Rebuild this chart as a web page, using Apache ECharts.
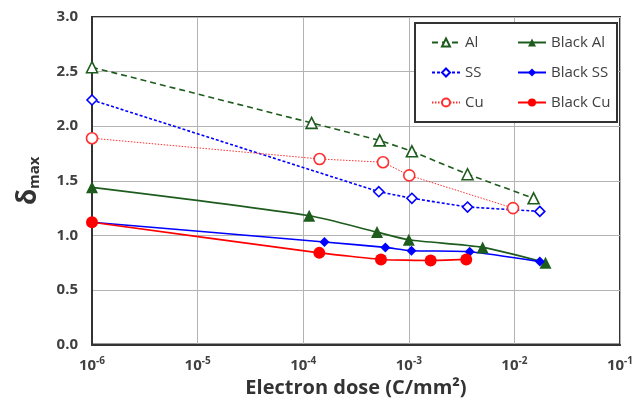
<!DOCTYPE html>
<html>
<head>
<meta charset="utf-8">
<script src="https://cdn.jsdelivr.net/npm/echarts@6/dist/echarts.min.js"></script>
<style>
  html, body { margin: 0; padding: 0; background: #fff; }
  #chart { width: 640px; height: 403px; }
</style>
</head>
<body>
<div id="chart"></div>
<script>
// dose in C/mm2, delta max
const alDose = [1e-6, 1.2e-4, 5.3e-4, 1.07e-3, 3.6e-3, 1.52e-2]
const alDelta = [2.54, 2.03, 1.87, 1.77, 1.56, 1.34]
const ssDose = [1e-6, 5.2e-4, 1.07e-3, 3.6e-3, 1.74e-2]
const ssDelta = [2.24, 1.40, 1.34, 1.26, 1.22]
const cuDose = [1e-6, 1.43e-4, 5.7e-4, 1.01e-3, 9.7e-3]
const cuDelta = [1.89, 1.70, 1.67, 1.55, 1.25]
const blackAlDose = [1e-6, 1.14e-4, 5.0e-4, 1.0e-3, 5.0e-3, 1.97e-2]
const blackAlDelta = [1.44, 1.18, 1.03, 0.96, 0.89, 0.75]
const blackSsDose = [1e-6, 1.59e-4, 6.0e-4, 1.06e-3, 3.77e-3, 1.74e-2]
const blackSsDelta = [1.12, 0.94, 0.89, 0.86, 0.85, 0.76]
const blackCuDose = [1e-6, 1.42e-4, 5.45e-4, 1.61e-3, 3.5e-3]
const blackCuDelta = [1.12, 0.84, 0.78, 0.77, 0.78]

const pairs = (xs, ys) => xs.map((x, i) => [x, ys[i]])

const green = '#1e5c1e'
const blue = '#0000ff'
const red = '#ff0000'
const font = '"Open Sans", "DejaVu Sans", sans-serif'

const chart = echarts.init(document.getElementById('chart'))

const openSeries = (name, xs, ys, color, symbol, size, lineType, width) => ({
  name, type: 'line', data: pairs(xs, ys),
  symbol, symbolSize: size,
  itemStyle: {color: '#fff', borderColor: color, borderWidth: 1.6},
  lineStyle: {color, type: lineType, width},
  z: 3
})
const filledSeries = (name, xs, ys, color, symbol, size, smooth) => ({
  name, type: 'line', data: pairs(xs, ys),
  symbol, symbolSize: size, smooth,
  itemStyle: {color, borderColor: color, borderWidth: 0},
  lineStyle: {color, type: 'solid', width: 1.6},
  z: 4
})

const legendText = {color: '#404040', fontSize: 15, fontFamily: font}

chart.setOption({
  animation: false,
  backgroundColor: '#fff',
  grid: {left: 92, right: 20, top: 17, bottom: 55, show: true, borderColor: '#333', borderWidth: 2},
  xAxis: {
    type: 'log', logBase: 10, min: 1e-6, max: 1e-1,
    splitNumber: 5,
    axisLine: {lineStyle: {color: '#333', width: 2}},
    axisTick: {show: false},
    splitLine: {lineStyle: {color: '#b3b3b3', width: 1}},
    minorSplitLine: {show: false},
    axisLabel: {
      margin: 12,
      formatter: v => '10{sup|' + Math.round(Math.log10(v)) + '}',
      rich: {
        sup: {fontSize: 10, fontWeight: 'bold', color: '#404040', fontFamily: font, padding: [0, 0, 8, 0]}
      },
      color: '#404040', fontSize: 15, fontWeight: 'bold', fontFamily: font
    },
    name: 'Electron dose (C/mm²)',
    nameLocation: 'middle', nameGap: 33,
    nameTextStyle: {color: '#333', fontSize: 20, fontWeight: 'bold', fontFamily: font}
  },
  yAxis: {
    type: 'value', min: 0, max: 3, interval: 0.5,
    axisLine: {show: true, lineStyle: {color: '#333', width: 2}},
    axisTick: {show: false},
    splitLine: {lineStyle: {color: '#b3b3b3', width: 1}},
    axisLabel: {
      formatter: v => v.toFixed(1), margin: 14,
      color: '#404040', fontSize: 15, fontWeight: 'bold', fontFamily: font
    },
    name: '{d|δ}{s|max}',
    nameLocation: 'middle', nameGap: 50, nameRotate: 90,
    nameTextStyle: {
      rich: {
        d: {fontSize: 26, fontWeight: 'bold', color: '#333', fontFamily: font},
        s: {fontSize: 15, fontWeight: 'bold', color: '#333', fontFamily: font, padding: [12, 0, 0, 0]}
      }
    }
  },
  graphic: [{
    type: 'rect', left: 414, top: 22, z: 5,
    shape: {width: 202, height: 99},
    style: {fill: '#fff', stroke: '#333', lineWidth: 2}
  }],
  legend: [{
    data: ['Al', 'SS', 'Cu'],
    orient: 'vertical', left: 426, top: 30, z: 10,
    itemWidth: 28, itemHeight: 10, itemGap: 15,
    textStyle: legendText
  }, {
    data: ['Black Al', 'Black SS', 'Black Cu'],
    orient: 'vertical', left: 512, top: 30, z: 10,
    itemWidth: 28, itemHeight: 10, itemGap: 15,
    textStyle: legendText
  }],
  series: [
    openSeries('Al', alDose, alDelta, green, 'triangle', 11, [6, 4], 1.6),
    openSeries('SS', ssDose, ssDelta, blue, 'diamond', 10, [3, 2], 1.6),
    openSeries('Cu', cuDose, cuDelta, '#ff3030', 'circle', 11, [1.5, 1.5], 1),
    filledSeries('Black Al', blackAlDose, blackAlDelta, green, 'triangle', 12, 0.25),
    filledSeries('Black SS', blackSsDose, blackSsDelta, blue, 'diamond', 10, 0.2),
    filledSeries('Black Cu', blackCuDose, blackCuDelta, red, 'circle', 12, 0.12)
  ]
})
</script>
</body>
</html>
